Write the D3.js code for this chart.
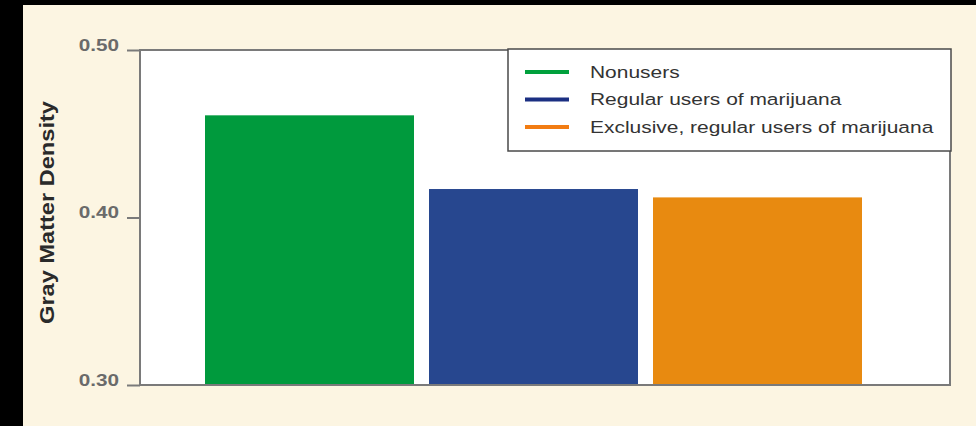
<!DOCTYPE html>
<html>
<head>
<meta charset="utf-8">
<script src="https://cdn.jsdelivr.net/npm/d3@7"></script>
<style>
  html, body { margin: 0; padding: 0; background: #000; }
  svg { display: block; }
  text { font-family: "Liberation Sans", Arial, Helvetica, sans-serif; }
</style>
</head>
<body>
<svg id="chart" width="976" height="426"></svg>
<script>
// ---- data ----
const categories = ["Nonusers", "Regular users of marijuana", "Exclusive, regular users of marijuana"];
const values = [0.461, 0.417, 0.412];
const barColors = ["#009a3d", "#27478f", "#e88a10"];
const legendColors = ["#00a03c", "#1b2f82", "#f27c12"];
const tickValues = [0.30, 0.40, 0.50];
const yDomain = [0.30, 0.50];
const yTitle = "Gray Matter Density";

// ---- layout ----
const svg = d3.select("#chart");
const W = 976, H = 426;
const plot = { left: 140, top: 50, right: 950, bottom: 385 };
const stretch = 1.3; // horizontal glyph stretch seen in the reference

svg.append("rect").attr("x", 23).attr("y", 5).attr("width", W - 23).attr("height", H - 5)
  .attr("fill", "#fcf5e2");

// plot background
svg.append("rect")
  .attr("x", plot.left).attr("y", plot.top)
  .attr("width", plot.right - plot.left).attr("height", plot.bottom - plot.top)
  .attr("fill", "#ffffff");

const y = d3.scaleLinear().domain(yDomain).range([plot.bottom, plot.top]);
const x = d3.scaleBand().domain(categories).range([205, 862]).paddingInner(0.067).paddingOuter(0);

// bars
svg.append("g").selectAll("rect").data(categories).join("rect")
  .attr("x", d => x(d))
  .attr("y", (d, i) => y(values[i]))
  .attr("width", x.bandwidth())
  .attr("height", (d, i) => y(yDomain[0]) - y(values[i]))
  .attr("fill", (d, i) => barColors[i]);

// plot border
svg.append("rect")
  .attr("x", plot.left).attr("y", plot.top)
  .attr("width", plot.right - plot.left).attr("height", plot.bottom - plot.top)
  .attr("fill", "none").attr("stroke", "#7a7a7a").attr("stroke-width", 2);

// y axis
const yAxis = d3.axisLeft(y).tickValues(tickValues).tickSize(13).tickFormat(d3.format(".2f"));
const ga = svg.append("g").attr("transform", `translate(${plot.left},0)`).call(yAxis);
ga.select(".domain").remove();
ga.selectAll(".tick line").attr("stroke", "#7a7a7a").attr("stroke-width", 2);
ga.selectAll(".tick text")
  .attr("x", 0).attr("y", 0).attr("dy", 0)
  .attr("transform", `translate(-21,0) scale(1.22,1)`)
  .attr("text-anchor", "end")
  .attr("fill", "#6a6a6a")
  .attr("font-weight", "bold")
  .attr("font-size", 17)
  .attr("font-family", "'Liberation Sans', Arial, sans-serif");

// y title
svg.append("text")
  .attr("transform", `translate(54,${(plot.top + plot.bottom) / 2 - 5}) rotate(-90) scale(1.18,1)`)
  .attr("text-anchor", "middle")
  .attr("font-weight", "bold")
  .attr("font-size", 20)
  .attr("fill", "#2a2a2a")
  .text(yTitle);

// legend
const lg = svg.append("g");
lg.append("rect").attr("x", 508).attr("y", 49).attr("width", 443).attr("height", 102)
  .attr("fill", "#ffffff").attr("stroke", "#4a4a4a").attr("stroke-width", 1.5);
const items = lg.selectAll("g.item").data(categories).join("g")
  .attr("class", "item")
  .attr("transform", (d, i) => `translate(525,${72 + i * 27.5})`);
items.append("line").attr("x1", 0).attr("x2", 44).attr("y1", 0).attr("y2", 0)
  .attr("stroke", (d, i) => legendColors[i]).attr("stroke-width", 4);
items.append("text")
  .attr("transform", `translate(65,5.5) scale(1.27,1)`)
  .attr("font-size", 16.5)
  .attr("fill", "#333333")
  .text(d => d);
</script>
</body>
</html>
